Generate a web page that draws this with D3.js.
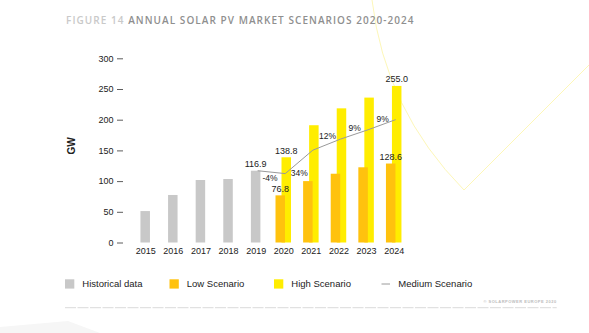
<!DOCTYPE html>
<html>
<head>
<meta charset="utf-8">
<script src="https://cdn.jsdelivr.net/npm/d3@7"></script>
<style>
  html, body { margin: 0; padding: 0; background: #fff; }
  svg { display: block; }
</style>
</head>
<body>
<svg id="chart" width="589" height="333"></svg>
<script>
// ---- data ----
const years = ["2015","2016","2017","2018","2019","2020","2021","2022","2023","2024"];
const historicalYears = ["2015","2016","2017","2018","2019"];
const historicalValues = [51.2, 77.4, 101.8, 103.4, 116.9];
const scenarioYears = ["2020","2021","2022","2023","2024"];
const lowValues = [76.8, 100.0, 112.0, 122.5, 128.6];
const highValues = [138.8, 191.0, 218.5, 236.0, 255.0];
const mediumYears = ["2019","2020","2021","2022","2023","2024"];
const mediumValues = [116.9, 112.2, 150.4, 168.4, 183.6, 200.1];
const growthLabels = ["-4%", "34%", "12%", "9%", "9%"];
const yTicks = [0, 50, 100, 150, 200, 250, 300];
const labelledHistorical = ["2019"];
const labelledScenario = ["2020", "2024"];
const legendItems = ["Historical data", "Low Scenario", "High Scenario", "Medium Scenario"];

// ---- styles ----
const C_HIST = "#c8c8c8", C_LOW = "#ffc20e", C_HIGH = "#ffed00", C_MED = "#9a9a9a";
const FONT = "'Liberation Sans', Arial, Helvetica, sans-serif";

const svg = d3.select("#chart");

// decorative background shapes
svg.append("path")
  .attr("d", "M0,333 L0,327 L68,321 L100,333 Z")
  .attr("fill", "#f6f6f6");
svg.append("path")
  .attr("d", "M372,0 Q385,110 464,190 L589,65")
  .attr("fill", "none").attr("stroke", "#fdf7b8").attr("stroke-width", 1);

// title
const title = svg.append("text").attr("x", 66).attr("y", 24)
  .attr("font-family", "'Open Sans', 'Noto Sans', sans-serif")
  .attr("font-size", 10).attr("font-weight", 600).attr("letter-spacing", 1.05);
title.append("tspan").attr("fill", "#c9c9c9").text("FIGURE 14 ");
title.append("tspan").attr("fill", "#8f8f8f").text("ANNUAL SOLAR PV MARKET SCENARIOS 2020-2024");

// scales
const x = d3.scalePoint().domain(years).range([145.2, 393.7]);
const y = d3.scaleLinear().domain([0, 300]).range([242.5, 58.3]);

const BW = 9.5, OFF = 3;

// y axis (ticks as text + dash)
const yAxis = svg.append("g").attr("transform", "translate(123,0)")
  .call(d3.axisLeft(y).tickValues(yTicks).tickSize(6).tickPadding(3.5).tickFormat(d3.format("d")));
yAxis.select(".domain").remove();
yAxis.selectAll(".tick line").attr("stroke", "#333").attr("stroke-width", 0.8);
yAxis.selectAll(".tick text").attr("font-family", FONT).attr("font-size", 9).attr("fill", "#222");

// x axis labels
const xAxis = svg.append("g").attr("transform", "translate(0,248)")
  .call(d3.axisBottom(x).tickSize(0).tickPadding(0));
xAxis.select(".domain").remove();
xAxis.selectAll(".tick text").attr("font-family", FONT).attr("font-size", 9).attr("fill", "#222").attr("dy", "0.71em");

// GW label
svg.append("text").attr("transform", "translate(75,146) rotate(-90)")
  .attr("text-anchor", "middle").attr("font-family", FONT).attr("font-size", 10)
  .attr("font-weight", "bold").attr("fill", "#222").text("GW");

// historical bars
svg.append("g").selectAll("rect").data(historicalYears).join("rect")
  .attr("x", d => x(d) - BW / 2).attr("width", BW)
  .attr("y", (d, i) => y(historicalValues[i]))
  .attr("height", (d, i) => y(0) - y(historicalValues[i]))
  .attr("fill", C_HIST);

// high bars (behind)
svg.append("g").selectAll("rect").data(scenarioYears).join("rect")
  .attr("x", d => x(d) + OFF - BW / 2).attr("width", BW)
  .attr("y", (d, i) => y(highValues[i]))
  .attr("height", (d, i) => y(0) - y(highValues[i]))
  .attr("fill", C_HIGH);

// low bars (front)
svg.append("g").selectAll("rect").data(scenarioYears).join("rect")
  .attr("x", d => x(d) - OFF - BW / 2).attr("width", BW)
  .attr("y", (d, i) => y(lowValues[i]))
  .attr("height", (d, i) => y(0) - y(lowValues[i]))
  .attr("fill", C_LOW);

// medium line
const line = d3.line().x(d => x(d[0]) + 2).y(d => y(d[1]));
svg.append("path").datum(mediumYears.map((yr, i) => [yr, mediumValues[i]]))
  .attr("d", line).attr("fill", "none").attr("stroke", C_MED).attr("stroke-width", 1);

// value labels
const vl = svg.append("g").attr("font-family", FONT).attr("font-size", 9)
  .attr("fill", "#222").attr("text-anchor", "middle");
labelledHistorical.forEach(yr => {
  const v = historicalValues[historicalYears.indexOf(yr)];
  vl.append("text").attr("x", x(yr)).attr("y", y(v) - 3.5).text(v.toFixed(1));
});
labelledScenario.forEach(yr => {
  const i = scenarioYears.indexOf(yr);
  vl.append("text").attr("x", x(yr) + OFF).attr("y", y(highValues[i]) - 3.5).text(highValues[i].toFixed(1));
  vl.append("text").attr("x", x(yr) - OFF).attr("y", y(lowValues[i]) - 3.5).text(lowValues[i].toFixed(1));
});

// growth labels: anchor at segment end (i=0), segment start (i=1) or midpoint, then nudge
const gAnchor = ["end", "start", "mid", "mid", "mid"];
const gOff = [[-15.3, 7.4], [14, 2.5], [0.8, -5.6], [0.4, -3.8], [0.8, -2.4]];
const gl = svg.append("g").attr("font-family", FONT).attr("font-size", 8.5)
  .attr("fill", "#222").attr("text-anchor", "middle");
growthLabels.forEach((t, i) => {
  const x0 = x(mediumYears[i]) + 2, x1 = x(mediumYears[i + 1]) + 2;
  const y0 = y(mediumValues[i]), y1 = y(mediumValues[i + 1]);
  const sx = gAnchor[i] === "end" ? x1 : gAnchor[i] === "start" ? x0 : (x0 + x1) / 2;
  const sy = gAnchor[i] === "end" ? y1 : gAnchor[i] === "start" ? y0 : (y0 + y1) / 2;
  gl.append("text").attr("x", sx + gOff[i][0]).attr("y", sy + gOff[i][1]).text(t);
});

// legend
const legendX = [65, 169.5, 274, 381.5];
const lg = svg.append("g").attr("font-family", FONT).attr("font-size", 9.5).attr("fill", "#222");
const legendColors = [C_HIST, C_LOW, C_HIGH, null];
legendItems.forEach((name, i) => {
  const gx = legendX[i];
  if (legendColors[i]) {
    lg.append("rect").attr("x", gx).attr("y", 279.3).attr("width", 9.3).attr("height", 9.3).attr("fill", legendColors[i]);
    lg.append("text").attr("x", gx + 17.3).attr("y", 287).text(name);
  } else {
    lg.append("line").attr("x1", gx).attr("x2", gx + 8.5).attr("y1", 284).attr("y2", 284)
      .attr("stroke", C_MED).attr("stroke-width", 1);
    lg.append("text").attr("x", gx + 16.8).attr("y", 287).text(name);
  }
});

// footer
svg.append("text").attr("x", 556.7).attr("y", 302.5).attr("text-anchor", "end")
  .attr("font-family", FONT).attr("font-size", 4).attr("font-weight", "bold")
  .attr("letter-spacing", 0.5).attr("fill", "#bdbdbd").text("© SOLARPOWER EUROPE 2020");
svg.append("line").attr("x1", 65).attr("x2", 556.7).attr("y1", 307.7).attr("y2", 307.7)
  .attr("stroke", "#cfcfcf").attr("stroke-width", 0.8).attr("stroke-dasharray", "11,1.5");
</script>
</body>
</html>
